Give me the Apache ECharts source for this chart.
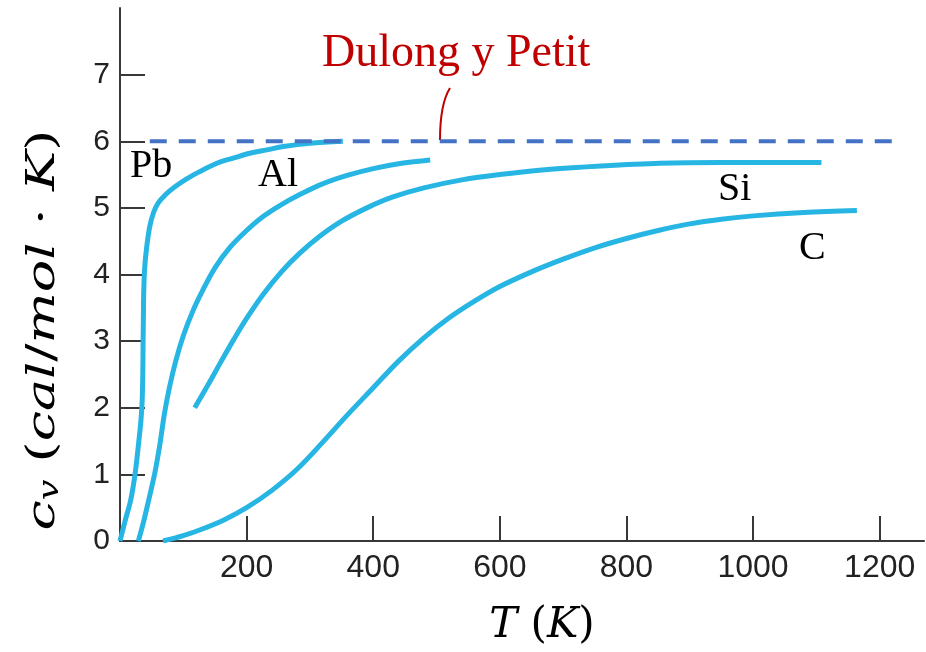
<!DOCTYPE html>
<html>
<head>
  <meta charset="utf-8">
  <title>cv vs T</title>
  <style>
    html, body { margin: 0; padding: 0; background: #fff; }
    #main { width: 926px; height: 652px; }
  </style>
</head>
<body>
<div id="main"></div>
<script src="https://cdn.jsdelivr.net/npm/echarts/dist/echarts.min.js"></script>
<script>
  // valores (T en K, cv en cal/mol·K)
  var pbT  = [0, 8, 17, 24, 30, 33, 35, 36, 36.5, 37, 37.5, 39, 42, 47, 53, 60, 68, 78, 90, 106, 125, 153, 180, 205, 232, 258, 300, 352];
  var pbCv = [0, 0.3, 0.62, 1.02, 1.52, 1.8, 2.1, 2.5, 3.0, 3.4, 3.75, 4.1, 4.4, 4.72, 4.93, 5.07, 5.16, 5.25, 5.34, 5.44, 5.54, 5.67, 5.75, 5.82, 5.87, 5.92, 5.97, 6.0];

  var alT  = [29, 37, 45, 55, 63, 70, 78, 88, 100, 115, 130, 150, 174, 200, 226, 255, 284, 320, 360, 400, 445, 490];
  var alCv = [0, 0.28, 0.6, 1.02, 1.45, 1.9, 2.3, 2.7, 3.08, 3.45, 3.75, 4.1, 4.41, 4.66, 4.87, 5.05, 5.2, 5.36, 5.49, 5.59, 5.67, 5.72];

  var siT  = [118, 140, 160, 180, 200, 226, 255, 284, 315, 350, 390, 430, 480, 540, 600, 680, 760, 853, 950, 1030, 1108];
  var siCv = [2.0, 2.36, 2.7, 3.03, 3.34, 3.7, 4.04, 4.32, 4.57, 4.8, 5.0, 5.16, 5.3, 5.42, 5.5, 5.58, 5.63, 5.67, 5.68, 5.68, 5.68];

  var cT  = [68, 100, 130, 165, 200, 240, 280, 320, 360, 400, 440, 480, 520, 560, 600, 650, 700, 750, 800, 850, 900, 950, 1000, 1080, 1164];
  var cCv = [0, 0.08, 0.18, 0.32, 0.5, 0.76, 1.08, 1.48, 1.9, 2.3, 2.7, 3.05, 3.35, 3.6, 3.82, 4.04, 4.23, 4.4, 4.54, 4.66, 4.76, 4.83, 4.88, 4.93, 4.96];

  // limite de Dulong y Petit
  var dulongT  = [47, 1224];
  var dulongCv = [6, 6];

  var xTicks = [200, 400, 600, 800, 1000, 1200];
  var yTicks = [0, 1, 2, 3, 4, 5, 6, 7];

  function pares(xs, ys) {
    return xs.map(function (x, i) { return [x, ys[i]]; });
  }

  var curva = '#27b6e4';
  var serif = 'DejaVu Serif';

  function estilos(tam) {
    return {
      i: { fontFamily: serif, fontStyle: 'italic', fontSize: tam, color: '#000' },
      u: { fontFamily: serif, fontSize: tam, color: '#000' },
      s: { fontFamily: serif, fontStyle: 'italic', fontSize: Math.round(tam * 0.68), color: '#000',
           verticalAlign: 'bottom', lineHeight: Math.round(tam * 0.68), padding: [Math.round(tam * 0.45), 0, 0, 0] }
    };
  }

  function curvaSerie(nombre, xs, ys) {
    return {
      name: nombre,
      type: 'line',
      data: pares(xs, ys),
      showSymbol: false,
      smooth: 0.35,
      lineStyle: { color: curva, width: 5 },
      z: 2
    };
  }

  var myChart = echarts.init(document.getElementById('main'));
  myChart.setOption({
    animation: false,
    backgroundColor: '#fff',
    grid: { left: 120, right: 2, top: 8, bottom: 111 },
    xAxis: {
      type: 'value',
      min: 0,
      max: 1270,
      interval: 200,
      name: '{i|T }{u|(}{i|K}{u|)}',
      nameLocation: 'middle',
      nameGap: 64,
      nameTextStyle: { rich: estilos(42), padding: [0, 0, 0, 40] },
      axisLine: { lineStyle: { color: '#383838', width: 2 } },
      axisTick: { inside: true, length: 25, customValues: xTicks, lineStyle: { color: '#383838', width: 2 } },
      axisLabel: {
        customValues: xTicks, margin: 11, fontFamily: 'Liberation Sans', fontSize: 32, color: '#222',
        formatter: function (v) { return String(v); }
      },
      splitLine: { show: false }
    },
    yAxis: {
      type: 'value',
      min: 0,
      max: 8,
      interval: 1,
      axisLine: { lineStyle: { color: '#383838', width: 2 } },
      axisTick: { inside: true, length: 25, customValues: yTicks, lineStyle: { color: '#383838', width: 2 } },
      axisLabel: {
        customValues: yTicks, margin: 10, fontFamily: 'Liberation Sans', fontSize: 30, color: '#222',
        formatter: function (v) { return String(v); }
      },
      splitLine: { show: false }
    },
    series: [
      curvaSerie('Pb', pbT, pbCv),
      curvaSerie('Al', alT, alCv),
      curvaSerie('Si', siT, siCv),
      curvaSerie('C', cT, cCv),
      {
        name: 'Dulong y Petit',
        type: 'line',
        data: pares(dulongT, dulongCv),
        showSymbol: false,
        lineStyle: { color: '#4472c4', width: 4, type: [17, 12] },
        z: 3
      }
    ],
    graphic: [
      // titulo del eje y, estirado a lo largo como en la figura
      {
        type: 'text', x: 44, y: 330, rotation: Math.PI / 2, scaleX: 1.35,
        style: {
          text: '{i|c}{s|v}{u| (}{i|cal}{u|/}{i|mol}{u| · }{i|K}{u|)}',
          rich: estilos(40), align: 'center', verticalAlign: 'middle'
        }
      },
      { type: 'text', left: 130, top: 146, style: { text: 'Pb', font: '40px "Liberation Serif"', fill: '#000' } },
      { type: 'text', left: 258, top: 155, style: { text: 'Al', font: '40px "Liberation Serif"', fill: '#000' } },
      { type: 'text', left: 718, top: 169, style: { text: 'Si', font: '40px "Liberation Serif"', fill: '#000' } },
      { type: 'text', left: 799, top: 228, style: { text: 'C', font: '40px "Liberation Serif"', fill: '#000' } },
      { type: 'text', left: 322, top: 31, style: { text: 'Dulong y Petit', font: '46px "Liberation Serif"', fill: '#c00000' } },
      {
        type: 'bezierCurve',
        shape: { x1: 450, y1: 88, x2: 440, y2: 140, cpx1: 440, cpy1: 104 },
        style: { stroke: '#c00000', lineWidth: 2, fill: null }
      }
    ]
  });
</script>
</body>
</html>
